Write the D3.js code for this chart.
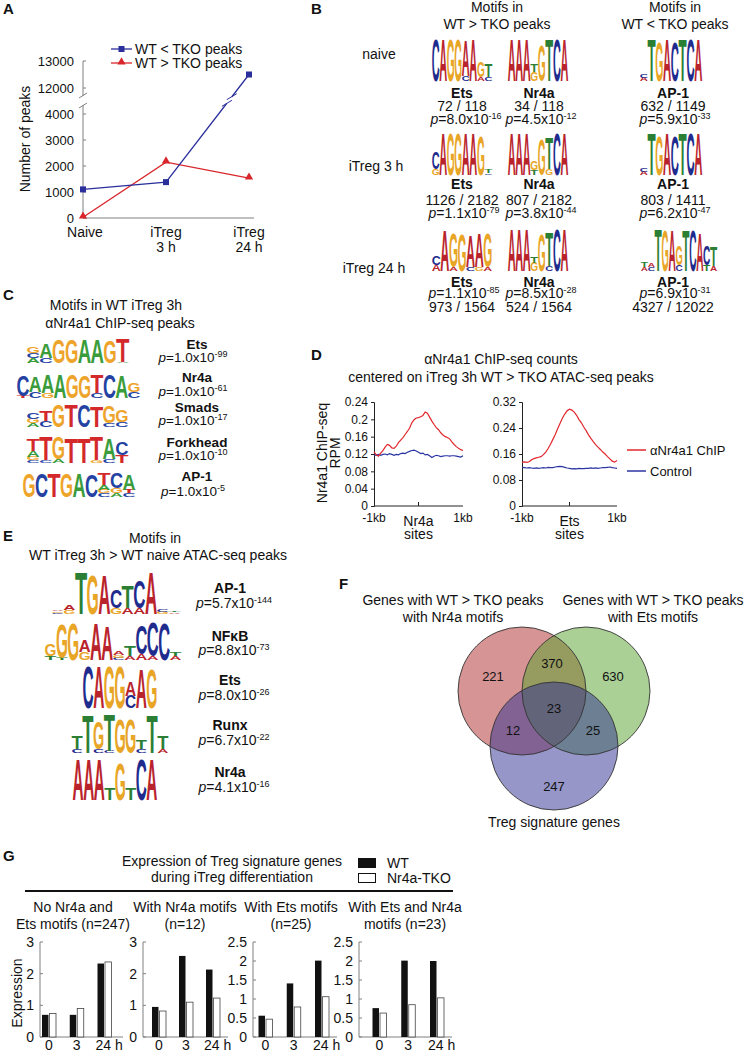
<!DOCTYPE html>
<html>
<head>
<meta charset="utf-8">
<script src="https://cdn.jsdelivr.net/npm/d3@7"></script>
<style>
body { margin: 0; background: #fff; }
text { font-family: "Liberation Sans", Arial, Helvetica, sans-serif; fill: #111; }
</style>
</head>
<body>
<svg id="fig" width="747" height="1052"></svg>
<script>
// ---- A: number of differential peaks
var peakStages = ['Naive', 'iTreg 3 h', 'iTreg 24 h'];
var peaksWtLess = [1100, 1380, 12500];
var peaksWtMore = [30, 2150, 1530];
var peakTicks = [0, 1000, 2000, 3000, 4000, 12000, 13000];

// ---- B: motifs in WT vs TKO peaks
var tkoRows = ['naive', 'iTreg 3 h', 'iTreg 24 h'];
var tkoMotifs = ['Ets', 'Nr4a', 'AP-1'];
var tkoCounts = [['72 / 118', '34 / 118', '632 / 1149'],
                 ['1126 / 2182', '807 / 2182', '803 / 1411'],
                 ['973 / 1564', '524 / 1564', '4327 / 12022']];
var tkoPMant = [['8.0', '4.5', '5.9'], ['1.1', '3.8', '6.2'], ['1.1', '8.5', '6.9']];
var tkoPExp = [['-16', '-12', '-33'], ['-79', '-44', '-47'], ['-85', '-28', '-31']];
// logo columns, letters listed bottom to top with relative height
var tkoLogos = [
    ['C1|A1|G1|G1|C.12 A.85|A1|A.1 G.38|C.1 T.32', 'A1|A1|A1|G.22 T.2|G.85|T1|C1|A1', 'A.08 C.08|T1|G.95|A1|C.95|T1|C1|A1'],
    ['G.15 C.4|A1|G1|G1|A1|A1|G.95|C.04 T.08', 'A1|A1|A1|T.12 G.22|G.85|G.15 T.75|C1|A1', 'A.08 C.08|T1|G.95|A1|C.95|T1|C1|A1'],
    ['A.15 C.22|A.95|A.1 G.8|G.85|C.1 A.75|G.1 A.8|A.1 G.8', 'A1|A1|A1|G.2 T.15|G.85|C.12 T.8|C1|A1',
     'A.1 T.12|C.1 A.1|T1|G.95|A.95|C.15 G.45|T.95|C.95|A.9|T.15 C.45|A.12 T.45']
];

// ---- C: motifs in aNr4a1 ChIP-seq peaks
var chipMotifs = ['Ets', 'Nr4a', 'Smads', 'Forkhead', 'AP-1'];
var chipPExp = ['-99', '-61', '-17', '-10', '-5'];
var chipLogos = [
    'A.22 C.22 G.28|C.22 A.6|G1|G1|A1|A1|G.95|A.05 T1',
    'T.1 C.85|C.25 A.6|G.2 A.7|A.95|G.95|G.9|C.2 T.7|C.95|A.9|C.25 G.35',
    'A.15 G.2 C.25|C.25 T.4|G.9|T.9|C.9|T.85|C.15 G.7|C.2 G.5',
    'C.1 G.12 A.25 T.45|C.1 T.9|A.15 G.85|T.95|T.95|G.1 T.9|C.15 A.8|T.3 C.5',
    'G.95|C.95|T.95|G.95|A.95|C.9|C.15 G.15 A.2 T.45|A.15 G.2 C.6|C.15 T.15 A.6'
];

// ---- D: ChIP-seq profiles (RPM), -1kb..1kb in 50 bp steps
var profileBp = d3.range(-1000, 1001, 50);
var nr4aChip = [.125, .118, .115, .122, .128, .136, .142, .140, .134, .133, .138, .146, .152, .158, .165, .172, .180, .192, .199, .203,
    .204, .206, .209, .217, .214, .205, .196, .188, .181, .176, .169, .164, .160, .158, .155, .148, .142, .137, .133, .130, .128];
var nr4aCtrl = [.118, .117, .119, .117, .119, .120, .118, .121, .119, .117, .119, .118, .121, .122, .121, .124, .126, .128, .129, .127,
    .124, .121, .122, .118, .119, .116, .112, .115, .117, .116, .114, .115, .116, .116, .115, .116, .116, .115, .114, .113, .116];
var etsChip = [.135, .136, .134, .136, .142, .146, .148, .150, .152, .158, .166, .177, .190, .205, .220, .238, .254, .270, .283, .293,
    .298, .295, .289, .279, .266, .256, .243, .232, .219, .208, .198, .189, .181, .174, .166, .160, .152, .145, .138, .135, .140];
var etsCtrl = [.119, .118, .117, .118, .117, .116, .117, .116, .117, .118, .117, .119, .118, .118, .120, .121, .122, .121, .119, .117,
    .116, .114, .115, .114, .116, .115, .115, .116, .116, .117, .116, .117, .116, .117, .118, .118, .119, .120, .118, .117, .116];

// ---- E: motifs in iTreg 3h > naive ATAC-seq peaks
var atacMotifs = ['AP-1', 'NF\u03BAB', 'Ets', 'Runx', 'Nr4a'];
var atacPMant = ['5.7', '8.8', '8.0', '6.7', '4.1'];
var atacPExp = ['-144', '-73', '-26', '-22', '-16'];
var atacLogos = [
    'C.03 G.04 A.04|G.1 A.12|T1|G.95|A.95|G.15 C.45|A.15 T.55|A.15 C.65|A1|G.06 C.05|A.04 T.04',
    'T.1 G.3|T.05 G.85|G.9|G.2 A.3|A.9|A.85|C.05 G.07 A.08|A.1 T.25|A.15 C.7|A.1 C.85|C.9|A.1 T.1',
    'C1|A1|G1|G1|C.3 A.35|A.95|G.95',
    'C.1 T.35|T1|C.1 G.7|C.05 T.95|G.9|G.9|C.1 T.25|T1|A.1 T.35',
    'A1|A1|A1|T.3|G.9|T.3|C1|A1'
];

// ---- F: Venn counts
var vennNames = ['Nr4a', 'Ets', 'Treg'];
var vennOnly = [221, 630, 247];
var vennNr4aEts = 370, vennNr4aTreg = 12, vennEtsTreg = 25, vennAll = 23;

// ---- G: expression of Treg signature genes
var exprGroups = ['No Nr4a and|Ets motifs (n=247)', 'With Nr4a motifs|(n=12)', 'With Ets motifs|(n=25)', 'With Ets and Nr4a|motifs (n=23)'];
var exprTimes = ['0', '3', '24'];
var exprWT = [[0.70, 0.70, 2.32], [0.95, 2.56, 2.13], [0.56, 1.41, 2.01], [0.76, 2.01, 2.00]];
var exprTKO = [[0.74, 0.90, 2.37], [0.82, 1.10, 1.23], [0.47, 0.79, 1.06], [0.63, 0.85, 1.03]];
var exprMax = [3, 3, 2.5, 2.5];

var svg = d3.select('#fig');
var stdColors = {A: '#b9242c', C: '#1f2c8e', G: '#e8a526', T: '#2b7f34'};
var homerColors = {A: '#3b9c3b', C: '#2442a2', G: '#eea42b', T: '#d3292b'};
var letterAdv = {A: 0.722, C: 0.722, G: 0.778, T: 0.611};

function txt(g, x, y, s, size, anchor, weight) {
    return g.append('text')
        .attr('x', x).attr('y', y)
        .attr('font-size', size || 14)
        .attr('text-anchor', anchor || 'middle')
        .attr('font-weight', weight || 'normal')
        .text(s);
}

function pval(g, x, y, mant, exp, size) {
    var t = g.append('text').attr('x', x).attr('y', y).attr('font-size', size || 14).attr('text-anchor', 'middle');
    t.append('tspan').attr('font-style', 'italic').text('p');
    t.append('tspan').text('=' + mant + 'x10');
    t.append('tspan').attr('font-size', 9).attr('dy', -5).text(exp);
    return t;
}

function drawLogo(g, spec, x0, x1, y0, y1, colors) {
    var cols = spec.split('|').map(function (c) {
        return c.split(' ').map(function (t) { return {b: t[0], h: +t.slice(1)}; });
    });
    var xb = d3.scaleBand().domain(d3.range(cols.length)).range([x0, x1]).paddingInner(0.03);
    var hy = d3.scaleLinear().domain([0, 1]).range([0, y1 - y0]);
    cols.forEach(function (col, i) {
        var base = y1, w = xb.bandwidth();
        col.forEach(function (l) {
            var h = hy(l.h);
            if (h > 0.3) {
                g.append('text')
                    .attr('font-size', 100).attr('font-weight', 'bold').attr('text-anchor', 'middle')
                    .style('fill', colors[l.b])
                    .attr('transform', 'translate(' + (xb(i) + w / 2) + ',' + base + ') scale(' +
                        (w * 1.08 / (letterAdv[l.b] * 100)) + ',' + (h / 70) + ')')
                    .text(l.b);
            }
            base -= h;
        });
    });
}

// panel letters
[['A', 3, 14], ['B', 311, 14], ['C', 3, 300], ['D', 311, 360], ['E', 3, 541], ['F', 339, 589], ['G', 3, 861]].forEach(function (d) {
    txt(svg, d[1], d[2], d[0], 15, 'start', 'bold');
});

// ================= A
(function () {
    var g = svg.append('g');
    var x = d3.scalePoint().domain(peakStages).range([83, 249]);
    var y = d3.scaleLinear().domain([0, 4400, 11600, 13000]).range([218, 103.6, 98.8, 61]);
    var grey = '#808080';

    g.append('line').attr('x1', 83).attr('x2', 254).attr('y1', 218).attr('y2', 218).attr('stroke', grey);
    g.append('line').attr('x1', 83).attr('x2', 83).attr('y1', 218).attr('y2', 105).attr('stroke', grey);
    g.append('line').attr('x1', 83).attr('x2', 83).attr('y1', 96).attr('y2', 61).attr('stroke', grey);
    [[79, 108, 87, 103], [79, 98, 87, 93]].forEach(function (s) {
        g.append('line').attr('x1', s[0]).attr('y1', s[1]).attr('x2', s[2]).attr('y2', s[3]).attr('stroke', grey);
    });

    peakTicks.forEach(function (v) {
        g.append('line').attr('x1', 83).attr('x2', 86).attr('y1', y(v)).attr('y2', y(v)).attr('stroke', grey);
        txt(g, 74, y(v) + 4.5, v, 13, 'end');
    });
    peakStages.forEach(function (s) {
        var lines = s.replace('iTreg ', 'iTreg|').split('|');
        lines.forEach(function (l, i) { txt(g, x(s) + (i === 0 && s === 'Naive' ? 2 : 0), 237 + i * 15, l, 14); });
    });

    g.append('text').attr('transform', 'translate(30,139) rotate(-90)')
        .attr('text-anchor', 'middle').attr('font-size', 14).text('Number of peaks');

    var line = d3.line().x(function (d, i) { return x(peakStages[i]); }).y(function (d) { return y(d); });
    var blue = '#2b2f9c', red = '#d8262c';
    g.append('path').datum(peaksWtMore).attr('d', line).attr('fill', 'none').attr('stroke', red).attr('stroke-width', 1.3);
    g.append('path').datum(peaksWtLess).attr('d', line).attr('fill', 'none').attr('stroke', blue).attr('stroke-width', 1.3);

    // break marks on the blue line
    var p1 = [x(peakStages[1]), y(peaksWtLess[1])], p2 = [x(peakStages[2]), y(peaksWtLess[2])];
    var t = (p1[1] - 100) / (p1[1] - p2[1]);
    var bx = p1[0] + t * (p2[0] - p1[0]), by = 100;
    g.append('line').attr('x1', bx - 2.5).attr('y1', by + 3.2).attr('x2', bx + 2.5).attr('y2', by - 3.2)
        .attr('stroke', '#fff').attr('stroke-width', 4);
    [-3, 3].forEach(function (o) {
        g.append('line').attr('x1', bx + o * 0.8 - 5).attr('y1', by - o * 1.1 + 3)
            .attr('x2', bx + o * 0.8 + 5).attr('y2', by - o * 1.1 - 3).attr('stroke', blue).attr('stroke-width', 1);
    });

    var tri = d3.symbol().type(d3.symbolTriangle).size(30);
    g.selectAll('.tri').data(peaksWtMore).enter().append('path')
        .attr('d', tri).attr('fill', red)
        .attr('transform', function (d, i) { return 'translate(' + x(peakStages[i]) + ',' + (y(d) - 1) + ')'; });
    g.selectAll('.sq').data(peaksWtLess).enter().append('rect')
        .attr('x', function (d, i) { return x(peakStages[i]) - 3; }).attr('y', function (d) { return y(d) - 3; })
        .attr('width', 6).attr('height', 6).attr('fill', blue);

    // legend
    g.append('line').attr('x1', 111).attr('x2', 132).attr('y1', 49).attr('y2', 49).attr('stroke', blue).attr('stroke-width', 1.3);
    g.append('rect').attr('x', 118.5).attr('y', 46).attr('width', 6).attr('height', 6).attr('fill', blue);
    txt(g, 135, 54, 'WT < TKO peaks', 14, 'start');
    g.append('line').attr('x1', 111).attr('x2', 132).attr('y1', 63).attr('y2', 63).attr('stroke', red).attr('stroke-width', 1.3);
    g.append('path').attr('d', tri).attr('fill', red).attr('transform', 'translate(121.5,62)');
    txt(g, 135, 68, 'WT > TKO peaks', 14, 'start');
})();

// ================= B
(function () {
    var g = svg.append('g');
    txt(g, 497, 12, 'Motifs in', 14);
    txt(g, 497, 29, 'WT > TKO peaks', 14);
    txt(g, 675, 12, 'Motifs in', 14);
    txt(g, 675, 29, 'WT < TKO peaks', 14);

    var rowLabelX = [379, 376, 374], rowLabelY = [59, 171, 273];
    var logoY = [[40, 81], [134, 175], [229, 271]];
    var colX = [[432, 492], [508, 568], [640, 702]];
    var textX = [462, 539, 673];
    var lineY = [[98, 111, 124], [189, 205, 218], [287, 312, 298]]; // name, counts, p

    tkoRows.forEach(function (r, ri) {
        txt(g, rowLabelX[ri], rowLabelY[ri], r, 14);
        tkoMotifs.forEach(function (m, ci) {
            var xr = colX[ci];
            if (ri === 2 && ci === 2) xr = [641, 717];
            drawLogo(g, tkoLogos[ri][ci], xr[0], xr[1], logoY[ri][0], logoY[ri][1], stdColors);
            txt(g, textX[ci], lineY[ri][0], m, 14, 'middle', 'bold');
            txt(g, textX[ci], lineY[ri][1], tkoCounts[ri][ci], 14);
            pval(g, textX[ci] + (ri === 0 && ci === 0 ? 4 : 2), lineY[ri][2], tkoPMant[ri][ci], tkoPExp[ri][ci]);
        });
    });
})();

// ================= C
(function () {
    var g = svg.append('g');
    txt(g, 116, 310, 'Motifs in WT iTreg 3h', 14);
    txt(g, 120, 328, '\u03B1Nr4a1 ChIP-seq peaks', 14);
    var boxes = [[27, 129, 340, 363], [17, 140, 373, 398], [27, 128, 403, 427], [27, 128, 437, 463], [23, 135, 472, 497]];
    var nameY = [349, 382, 412, 447, 481], pY = [362, 396, 425, 460, 496];
    chipMotifs.forEach(function (m, i) {
        var b = boxes[i];
        drawLogo(g, chipLogos[i], b[0], b[1], b[2], b[3], homerColors);
        txt(g, 197, nameY[i], m, 13.5, 'middle', 'bold');
        pval(g, 193, pY[i], '1.0', chipPExp[i], 13.5);
    });
})();

// ================= D
(function () {
    var g = svg.append('g');
    txt(g, 501, 364, '\u03B1Nr4a1 ChIP-seq counts', 14);
    txt(g, 501, 382, 'centered on iTreg 3h WT > TKO ATAC-seq peaks', 14);
    g.append('text').attr('transform', 'translate(327,453) rotate(-90)').attr('text-anchor', 'middle')
        .attr('font-size', 14).text('Nr4a1 ChIP-seq');
    g.append('text').attr('transform', 'translate(340,453) rotate(-90)').attr('text-anchor', 'middle')
        .attr('font-size', 14).text('RPM');

    var red = '#e0282d', blue = '#2c36a3';
    function profile(x0, x1, yMax, ticks, chip, ctrl, site) {
        var x = d3.scaleLinear().domain([-1000, 1000]).range([x0, x1]);
        var y = d3.scaleLinear().domain([0, yMax]).range([506, 402]);
        var ax = g.append('g').attr('transform', 'translate(' + x0 + ',0)')
            .call(d3.axisLeft(y).tickValues(ticks).tickSize(3).tickPadding(3)
                .tickFormat(function (d) { return String(+d.toFixed(2)); }));
        ax.selectAll('text').attr('font-size', 12).attr('font-family', null).style('fill', '#111');
        ax.selectAll('line,path').attr('stroke', '#222');
        g.append('line').attr('x1', x0).attr('x2', x1).attr('y1', 506).attr('y2', 506).attr('stroke', '#222');
        g.append('line').attr('x1', x(0)).attr('x2', x(0)).attr('y1', 506).attr('y2', 502).attr('stroke', '#222');
        txt(g, x0, 522, '-1kb', 12);
        txt(g, x1, 522, '1kb', 12);
        txt(g, x(0), 526, site, 14);
        txt(g, x(0), 539, 'sites', 14);
        var line = d3.line().x(function (d, i) { return x(profileBp[i]); }).y(function (d) { return y(d); });
        g.append('path').datum(ctrl).attr('d', line).attr('fill', 'none').attr('stroke', blue).attr('stroke-width', 1.2);
        g.append('path').datum(chip).attr('d', line).attr('fill', 'none').attr('stroke', red).attr('stroke-width', 1.2);
    }
    profile(374, 463, 0.24, [0, .04, .08, .12, .16, .2, .24], nr4aChip, nr4aCtrl, 'Nr4a');
    profile(522, 617, 0.32, [0, .08, .16, .24, .32], etsChip, etsCtrl, 'Ets');

    g.append('line').attr('x1', 627).attr('x2', 646).attr('y1', 450).attr('y2', 450).attr('stroke', red).attr('stroke-width', 1.5);
    txt(g, 650, 455, '\u03B1Nr4a1 ChIP', 13, 'start');
    g.append('line').attr('x1', 627).attr('x2', 646).attr('y1', 471).attr('y2', 471).attr('stroke', blue).attr('stroke-width', 1.5);
    txt(g, 650, 476, 'Control', 13, 'start');
})();

// ================= E
(function () {
    var g = svg.append('g');
    txt(g, 155, 543, 'Motifs in', 14);
    txt(g, 158, 560, 'WT iTreg 3h > WT naive ATAC-seq peaks', 14);
    var boxes = [[52, 180, 573, 614], [45, 181, 620, 660], [83, 157, 667, 708], [72, 168, 715, 753], [73, 157, 760, 800]];
    var nameY = [593, 641, 685, 730, 777], pY = [608, 655, 700, 745, 792];
    atacMotifs.forEach(function (m, i) {
        var b = boxes[i];
        drawLogo(g, atacLogos[i], b[0], b[1], b[2], b[3], stdColors);
        txt(g, 230, nameY[i], m, 14, 'middle', 'bold');
        pval(g, 234, pY[i], atacPMant[i], atacPExp[i]);
    });
})();

// ================= F
(function () {
    var g = svg.append('g');
    txt(g, 453, 605, 'Genes with WT > TKO peaks', 14);
    txt(g, 453, 622, 'with Nr4a motifs', 14);
    txt(g, 653, 605, 'Genes with WT > TKO peaks', 14);
    txt(g, 653, 622, 'with Ets motifs', 14);
    txt(g, 554, 827, 'Treg signature genes', 14);

    var circles = [{cx: 522, cy: 691, fill: '#ad2a2a'}, {cx: 586, cy: 691, fill: '#56a22c'}, {cx: 554, cy: 746, fill: '#2d2d92'}];
    var r = 64;
    g.selectAll('.vf').data(circles).enter().append('circle')
        .attr('cx', function (d) { return d.cx; }).attr('cy', function (d) { return d.cy; }).attr('r', r)
        .attr('fill', function (d) { return d.fill; }).attr('fill-opacity', 0.5);
    g.selectAll('.vs').data(circles).enter().append('circle')
        .attr('cx', function (d) { return d.cx; }).attr('cy', function (d) { return d.cy; }).attr('r', r)
        .attr('fill', 'none').attr('stroke', '#333').attr('stroke-width', 0.9);

    var labels = [[493, vennOnly[0]], [613, vennOnly[1]], [554, vennOnly[2]], [552, vennNr4aEts], [513, vennNr4aTreg], [593, vennEtsTreg], [554, vennAll]];
    var labelY = [681, 681, 791, 668, 735, 735, 713];
    labels.forEach(function (l, i) { txt(g, l[0], labelY[i], l[1], 13); });
})();

// ================= G
(function () {
    var g = svg.append('g');
    txt(g, 232, 866, 'Expression of Treg signature genes', 14);
    txt(g, 232, 882, 'during iTreg differentiation', 14);
    g.append('rect').attr('x', 358).attr('y', 858).attr('width', 18).attr('height', 10).attr('fill', '#111');
    g.append('rect').attr('x', 358.5).attr('y', 873.5).attr('width', 17).attr('height', 9).attr('fill', '#fff').attr('stroke', '#111');
    txt(g, 387, 868, 'WT', 14, 'start');
    txt(g, 387, 883, 'Nr4a-TKO', 14, 'start');
    g.append('line').attr('x1', 25).attr('x2', 453).attr('y1', 891).attr('y2', 891).attr('stroke', '#111').attr('stroke-width', 2);

    g.append('text').attr('transform', 'translate(22,993) rotate(-90)').attr('text-anchor', 'middle')
        .attr('font-size', 14).text('Expression');

    var axisX = [40, 143, 253, 359], axisEnd = [123, 228, 337, 452];
    var centers = [[49, 104.5], [159, 213], [265.5, 322], [379.5, 437]];
    var titleX = [73, 185, 291, 405];
    var grey = '#808080';

    exprGroups.forEach(function (title, k) {
        title.split('|').forEach(function (l, i) { txt(g, titleX[k], 912 + i * 17, l, 14); });
        var x = d3.scalePoint().domain(exprTimes).range(centers[k]);
        var y = d3.scaleLinear().domain([0, exprMax[k]]).range([1037, 942]);
        var ticks = d3.range(0, exprMax[k] + 0.01, exprMax[k] === 3 ? 1 : 0.5);

        g.append('line').attr('x1', axisX[k]).attr('x2', axisX[k]).attr('y1', 1037).attr('y2', 942).attr('stroke', grey);
        g.append('line').attr('x1', axisX[k]).attr('x2', axisEnd[k]).attr('y1', 1037).attr('y2', 1037).attr('stroke', grey);
        ticks.forEach(function (v) {
            g.append('line').attr('x1', axisX[k]).attr('x2', axisX[k] + 3).attr('y1', y(v)).attr('y2', y(v)).attr('stroke', grey);
            txt(g, axisX[k] - 6, y(v) + 5, String(v), 14, 'end');
        });
        exprTimes.forEach(function (t, i) {
            g.append('rect').attr('x', x(t) - 7).attr('y', y(exprWT[k][i])).attr('width', 6.5)
                .attr('height', 1037 - y(exprWT[k][i])).attr('fill', '#111');
            g.append('rect').attr('x', x(t) + 0.5).attr('y', y(exprTKO[k][i])).attr('width', 6.5)
                .attr('height', 1037 - y(exprTKO[k][i])).attr('fill', '#fff').attr('stroke', '#444').attr('stroke-width', 0.8);
            if (t === '24') txt(g, x(t) - 9, 1050, '24 h', 14, 'start');
            else txt(g, x(t), 1050, t, 14);
        });
    });
})();
</script>
</body>
</html>
